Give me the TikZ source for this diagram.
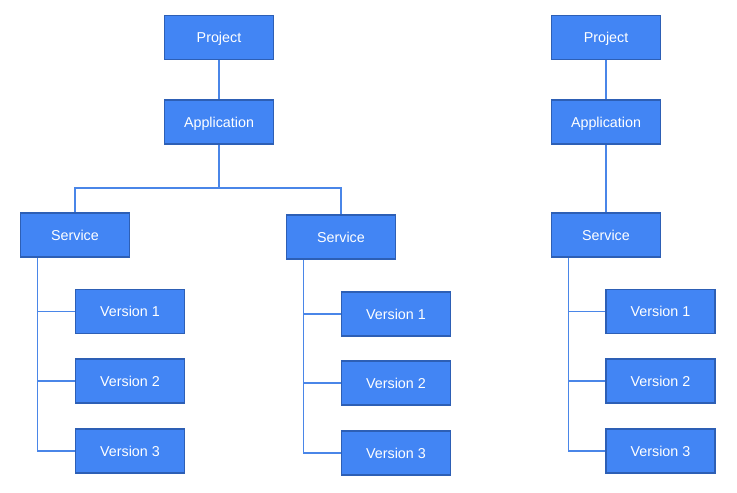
\documentclass[tikz,border=0pt]{standalone}
\usepackage{fontspec}
\setmainfont{Liberation Sans}
\definecolor{boxfill}{HTML}{4285F4}
\definecolor{boxline}{HTML}{2D5FB5}
\definecolor{wire}{HTML}{4A86E8}
\begin{document}
\begin{tikzpicture}[x=1pt,y=1pt]
                      \tikzstyle{every node}+=[inner sep=0pt]
                      \tikzstyle{box}=[draw=boxline, fill=boxfill, line width=1.9pt, minimum width=109pt, minimum height=44pt, text=white, text height=10.3pt, text depth=0pt, font=\fontsize{14.3}{17}\selectfont]
                      \tikzstyle{wire}=[draw=wire, line width=1.2pt]
                      \useasboundingbox (0,0) rectangle (737,-493);
                      % left tree
                      \node [box] (projA) at (219,-37.5) {Project};
                      \node [box] (appA) at (219,-122) {Application};
                      \node [box] (svcA) at (75,-235) {Service};
                      \node [box] (svcB) at (341,-237) {Service};
                      \node [box] (verA1) at (130,-311.5) {Version 1};
                      \node [box] (verA2) at (130,-381) {Version 2};
                      \node [box] (verA3) at (130,-451) {Version 3};
                      \node [box] (verB1) at (396,-314) {Version 1};
                      \node [box] (verB2) at (396,-383) {Version 2};
                      \node [box] (verB3) at (396,-453) {Version 3};
                      % right tree
                      \node [box] (projC) at (606,-37.5) {Project};
                      \node [box] (appC) at (606,-122) {Application};
                      \node [box] (svcC) at (606,-235) {Service};
                      \node [box] (verC1) at (660.5,-311.5) {Version 1};
                      \node [box] (verC2) at (660.5,-381) {Version 2};
                      \node [box] (verC3) at (660.5,-451) {Version 3};
                      % links
                      \draw [wire] (projA) -- (appA);
                      \draw [wire] (appA.south) -- ++(0,-43) coordinate (fork);
                      \draw [wire] (fork) -| (svcA.north);
                      \draw [wire] (fork) -| (svcB.north);
                      \draw [wire] ([xshift=18pt]svcA.south west) |- (verA3.west);
                      \draw [wire] ([xshift=18pt]svcA.south west |- verA1.west) -- (verA1.west);
                      \draw [wire] ([xshift=18pt]svcA.south west |- verA2.west) -- (verA2.west);
                      \draw [wire] ([xshift=18pt]svcB.south west) |- (verB3.west);
                      \draw [wire] ([xshift=18pt]svcB.south west |- verB1.west) -- (verB1.west);
                      \draw [wire] ([xshift=18pt]svcB.south west |- verB2.west) -- (verB2.west);
                      \draw [wire] (projC) -- (appC);
                      \draw [wire] (appC) -- (svcC);
                      \draw [wire] ([xshift=18pt]svcC.south west) |- (verC3.west);
                      \draw [wire] ([xshift=18pt]svcC.south west |- verC1.west) -- (verC1.west);
                      \draw [wire] ([xshift=18pt]svcC.south west |- verC2.west) -- (verC2.west);
                  \end{tikzpicture}
\end{document}
